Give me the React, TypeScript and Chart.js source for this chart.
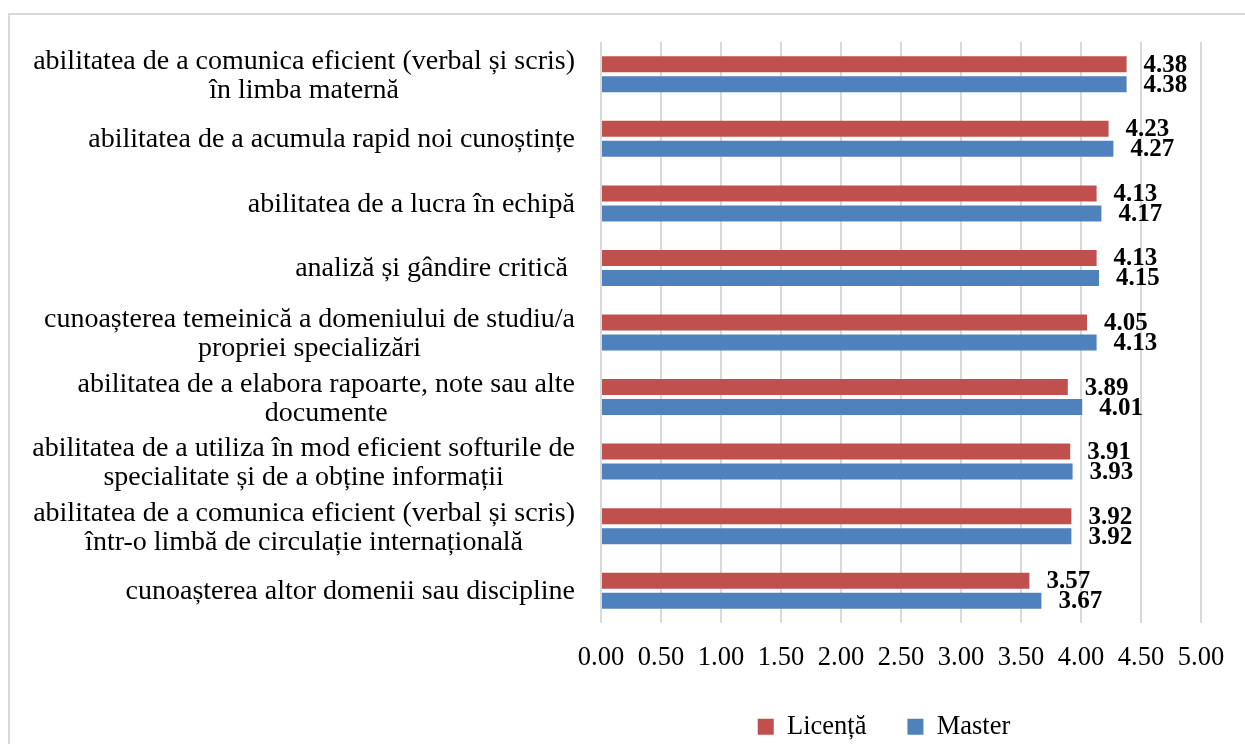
import React, { useEffect, useRef } from 'react';
import { Chart, registerables } from 'chart.js';

Chart.register(...registerables);

const categories: string[][] = [
  ['abilitatea de a comunica eficient (verbal și scris)', 'în limba maternă'],
  ['abilitatea de a acumula rapid noi cunoștințe'],
  ['abilitatea de a lucra în echipă'],
  ['analiză și gândire critică '],
  ['cunoașterea temeinică a domeniului de studiu/a', 'propriei specializări'],
  ['abilitatea de a elabora rapoarte, note sau alte', 'documente'],
  ['abilitatea de a utiliza în mod eficient softurile de', 'specialitate și de a obține informații'],
  ['abilitatea de a comunica eficient (verbal și scris)', 'într-o limbă de circulație internațională'],
  ['cunoașterea altor domenii sau discipline'],
];

const licenta = [4.38, 4.23, 4.13, 4.13, 4.05, 3.89, 3.91, 3.92, 3.57];
const master = [4.38, 4.27, 4.17, 4.15, 4.13, 4.01, 3.93, 3.92, 3.67];

const seriesNames = ['Licență', 'Master'];
const seriesColors = ['#C0504D', '#4F81BD'];

const xMin = 0;
const xMax = 5;
const xStep = 0.5;

const FONT = "'Liberation Serif', serif";

const categoryLabelPlugin = {
  id: 'categoryLabels',
  afterDraw(chart: any) {
    const { ctx, chartArea } = chart;
    const y = chart.scales.y;
    const right = chartArea.left - 26;
    ctx.save();
    ctx.font = `28px ${FONT}`;
    ctx.fillStyle = '#000000';
    ctx.textAlign = 'center';
    ctx.textBaseline = 'middle';
    const lh = 29;
    categories.forEach((lines, i) => {
      const cy = y.getPixelForValue(i) + (lines.length > 1 ? 2 : 1);
      const w = Math.max(...lines.map((l) => ctx.measureText(l).width));
      const cx = right - w / 2;
      lines.forEach((l, j) => {
        ctx.fillText(l, cx, cy + (j - (lines.length - 1) / 2) * lh);
      });
    });
    ctx.restore();
  },
};

const dataLabelPlugin = {
  id: 'dataLabels',
  afterDatasetsDraw(chart: any) {
    const { ctx } = chart;
    ctx.save();
    ctx.font = `bold 25px ${FONT}`;
    ctx.fillStyle = '#000000';
    ctx.textAlign = 'left';
    ctx.textBaseline = 'middle';
    chart.data.datasets.forEach((ds: any, di: number) => {
      const meta = chart.getDatasetMeta(di);
      meta.data.forEach((bar: any, i: number) => {
        ctx.fillText(Number(ds.data[i]).toFixed(2), bar.x + 17, bar.y + 1);
      });
    });
    ctx.restore();
  },
};

export default function App() {
  const canvasRef = useRef<HTMLCanvasElement | null>(null);

  useEffect(() => {
    if (!canvasRef.current) return;
    const chart = new Chart(canvasRef.current, {
      type: 'bar',
      data: {
        labels: categories.map((c) => c.join(' ')),
        datasets: [
          {
            label: seriesNames[0],
            data: licenta,
            backgroundColor: seriesColors[0],
            categoryPercentage: 0.62,
            barPercentage: 0.8,
          },
          {
            label: seriesNames[1],
            data: master,
            backgroundColor: seriesColors[1],
            categoryPercentage: 0.62,
            barPercentage: 0.8,
          },
        ],
      },
      options: {
        indexAxis: 'y',
        animation: false,
        responsive: true,
        maintainAspectRatio: false,
        layout: { padding: { left: 567, right: 44, top: 42, bottom: -6 } },
        scales: {
          x: {
            min: xMin,
            max: xMax,
            ticks: {
              stepSize: xStep,
              callback: (v: any) => Number(v).toFixed(2),
              font: { family: FONT, size: 26.5 },
              color: '#000000',
              padding: 19,
            },
            grid: { color: '#d9d9d9', lineWidth: 2, drawTicks: false },
            border: { display: false },
            afterFit: (s: any) => {
              s.height = 49.5;
            },
          },
          y: {
            ticks: { display: false },
            grid: { display: false },
            border: { display: false },
            afterFit: (s: any) => {
              s.width = 34;
            },
          },
        },
        plugins: {
          legend: {
            position: 'bottom',
            labels: {
              font: { family: FONT, size: 26.5 },
              color: '#000000',
              boxWidth: 16,
              boxHeight: 16,
              padding: 41,
            },
          },
          tooltip: { enabled: false },
        },
      },
      plugins: [categoryLabelPlugin, dataLabelPlugin],
    });
    return () => chart.destroy();
  }, []);

  return (
    <div style={{ position: 'fixed', inset: 0, overflow: 'hidden', background: '#ffffff' }}>
      <div
        style={{
          position: 'absolute',
          left: 8,
          top: 13,
          width: 1400,
          height: 900,
          border: '2px solid #d9d9d9',
          boxSizing: 'border-box',
        }}
      />
      <div style={{ position: 'absolute', left: 0, top: 0, width: 1245, height: 744 }}>
        <canvas ref={canvasRef} />
      </div>
    </div>
  );
}
